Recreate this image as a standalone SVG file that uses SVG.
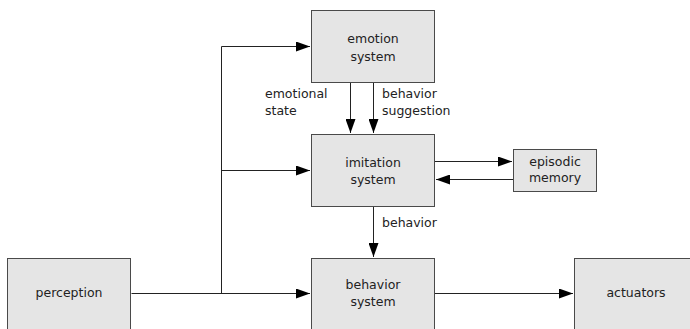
<svg xmlns="http://www.w3.org/2000/svg" width="690" height="329" viewBox="0 0 690 329">
  <style>
    .box { fill: #e5e5e5; stroke: #4a4a4a; stroke-width: 1; }
    .lbl { font-family: "DejaVu Sans", Verdana, sans-serif; font-size: 12.5px; fill: #222; }
    .mid { text-anchor: middle; }
    .wire { fill: none; stroke: #222; stroke-width: 1; }
  </style>
  <defs>
    <marker id="arrow" viewBox="0 0 14 10" refX="14" refY="5" markerWidth="14" markerHeight="10" markerUnits="userSpaceOnUse" orient="auto">
      <path d="M0,0 L14,5 L0,10 Z" fill="#000"/>
    </marker>
  </defs>
  <rect width="690" height="329" fill="#fff"/>

  <g id="connectors">
    <!-- perception fan-out -->
    <path class="wire" d="M131.5,293.5 H310" marker-end="url(#arrow)"/>
    <path class="wire" d="M221.5,293.5 V46.5 H310" marker-end="url(#arrow)"/>
    <path class="wire" d="M221.5,170.5 H310" marker-end="url(#arrow)"/>
    <!-- emotion to imitation -->
    <path class="wire" d="M350.5,82 V133" marker-end="url(#arrow)"/>
    <path class="wire" d="M373.5,82 V133" marker-end="url(#arrow)"/>
    <!-- imitation and memory -->
    <path class="wire" d="M435,161.5 H512" marker-end="url(#arrow)"/>
    <path class="wire" d="M513,179.5 H436" marker-end="url(#arrow)"/>
    <!-- imitation to behavior -->
    <path class="wire" d="M373.5,206 V257" marker-end="url(#arrow)"/>
    <!-- behavior to actuators -->
    <path class="wire" d="M435,293.5 H573" marker-end="url(#arrow)"/>
    <text class="lbl" x="265" y="98">emotional</text>
    <text class="lbl" x="265" y="115">state</text>
    <text class="lbl" x="382" y="98">behavior</text>
    <text class="lbl" x="382" y="115">suggestion</text>
    <text class="lbl" x="382" y="227">behavior</text>
  </g>

  <g id="emotion-system">
    <rect class="box" x="311.5" y="10.5" width="123" height="72"/>
    <text class="lbl mid" x="373" y="43">emotion</text>
    <text class="lbl mid" x="373" y="61">system</text>
  </g>

  <g id="imitation-system">
    <rect class="box" x="311.5" y="134.5" width="123" height="72"/>
    <text class="lbl mid" x="373" y="167">imitation</text>
    <text class="lbl mid" x="373" y="184">system</text>
  </g>

  <g id="episodic-memory">
    <rect class="box" x="513.5" y="149.5" width="83" height="42"/>
    <text class="lbl mid" x="555" y="166">episodic</text>
    <text class="lbl mid" x="555" y="182">memory</text>
  </g>

  <g id="perception">
    <rect class="box" x="7.5" y="258.5" width="123" height="80"/>
    <text class="lbl mid" x="69" y="297">perception</text>
  </g>

  <g id="behavior-system">
    <rect class="box" x="311.5" y="258.5" width="123" height="80"/>
    <text class="lbl mid" x="373" y="289">behavior</text>
    <text class="lbl mid" x="373" y="306">system</text>
  </g>

  <g id="actuators">
    <rect class="box" x="574.5" y="258.5" width="123" height="80"/>
    <text class="lbl mid" x="636" y="297">actuators</text>
  </g>
</svg>
